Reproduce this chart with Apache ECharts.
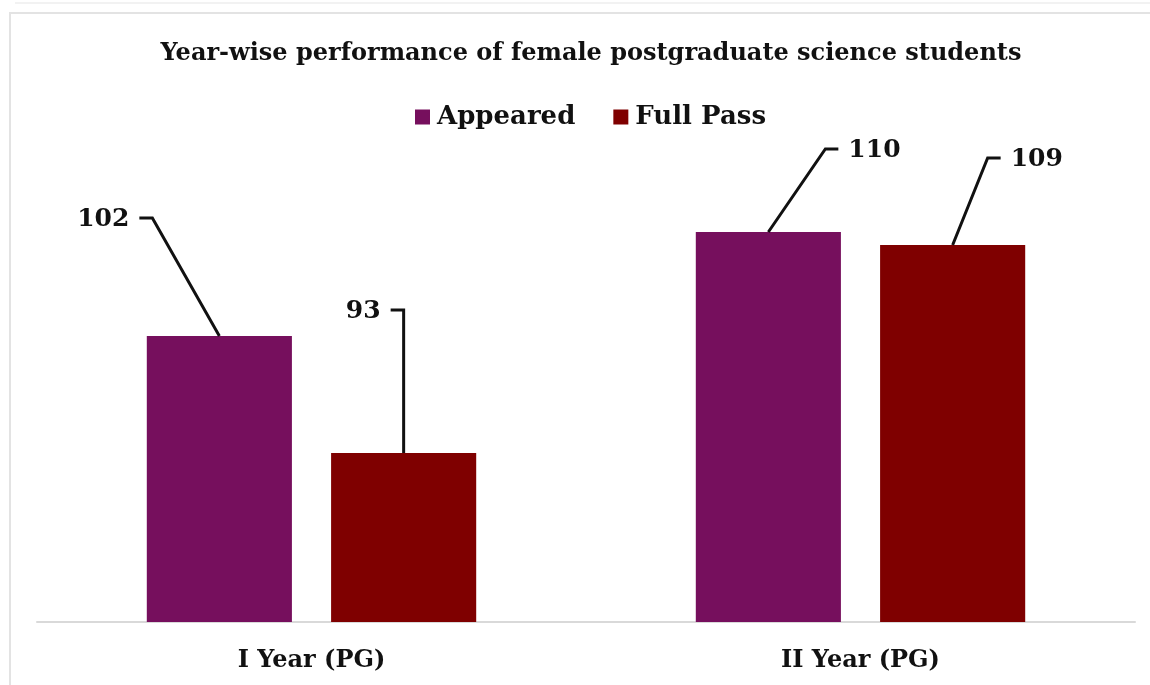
<!DOCTYPE html>
<html>
<head>
<meta charset="utf-8">
<script src="https://cdn.jsdelivr.net/npm/echarts@6/dist/echarts.min.js"></script>
<style>
  html, body { margin: 0; padding: 0; background: #fff; }
  #chart { width: 1150px; height: 685px; }
</style>
</head>
<body>
<div id="chart"></div>
<script>
// Categories and values
const categories = ['I Year (PG)', 'II Year (PG)'];
const seriesNames = ['Appeared', 'Full Pass'];
const appeared = [102, 110];
const fullPass = [93, 109];

// Callout placement per bar, indexed [category][series]: elbow offset from
// the bar's top centre and direction of the short horizontal tick (-1 left, +1 right)
const calloutStyle = [
  [ { dx: -67, dy: -118, dir: -1 }, { dx: 0, dy: -143, dir: -1 } ],
  [ { dx: 57, dy: -83, dir: 1 },    { dx: 35, dy: -87, dir: 1 } ]
];

const colors = ['#760f5d', '#7f0000'];
const serif = '"DejaVu Serif", "Liberation Serif", serif';
const CAT_GAP = 0.40, BAR_GAP = 0.27;

const chart = echarts.init(document.getElementById('chart'));

// Leader lines + value labels, positioned from the same data as the bars
function calloutSeries(values, sIdx) {
  return {
    type: 'custom',
    name: seriesNames[sIdx] + ' labels',
    z: 5,
    data: values.map((v, i) => [i, v]),
    renderItem: function (params, api) {
      const cat = api.value(0);
      const val = api.value(1);
      const top = api.coord([cat, val]);
      const bw = api.size([1, 0])[0];
      const barW = bw * (1 - CAT_GAP) / (2 + BAR_GAP);
      const shift = (barW * (1 + BAR_GAP)) / 2 * (sIdx === 0 ? -1 : 1);
      const x0 = top[0] + shift, y0 = top[1];
      const st = calloutStyle[cat][sIdx];
      const ex = x0 + st.dx, ey = y0 + st.dy;
      const tx = ex + st.dir * 13;
      return {
        type: 'group',
        children: [
          {
            type: 'polyline',
            shape: { points: [[x0, y0], [ex, ey], [tx, ey]] },
            style: { stroke: '#111', lineWidth: 3, fill: null, lineJoin: 'miter' }
          },
          {
            type: 'text',
            style: {
              text: String(val),
              x: tx + st.dir * 10,
              y: ey + 1,
              align: st.dir < 0 ? 'right' : 'left',
              verticalAlign: 'middle',
              font: 'bold 25px ' + serif,
              fill: '#111'
            }
          }
        ]
      };
    }
  };
}

chart.setOption({
  animation: false,
  backgroundColor: '#fff',
  graphic: [
    {
      type: 'rect',
      shape: { x: 10, y: 13, width: 1200, height: 720 },
      style: { fill: null, stroke: '#e3e3e3', lineWidth: 2 },
      silent: true
    },
    {
      type: 'line',
      shape: { x1: 15, y1: 3, x2: 1150, y2: 3 },
      style: { stroke: '#f2f2f2', lineWidth: 2 },
      silent: true
    }
  ],
  title: {
    text: 'Year-wise performance of female postgraduate science students',
    left: 586,
    textAlign: 'center',
    top: 37,
    textStyle: { fontFamily: serif, fontWeight: 'bold', fontSize: 24, color: '#111' }
  },
  legend: {
    data: seriesNames,
    left: 410,
    top: 99,
    itemWidth: 15,
    itemHeight: 15,
    itemGap: 38,
    icon: 'rect',
    textStyle: { fontFamily: serif, fontWeight: 'bold', fontSize: 26, color: '#111', padding: [0, 0, 0, 2] }
  },
  grid: { left: 37, right: 15, top: 102, bottom: 63 },
  xAxis: {
    type: 'category',
    data: categories,
    axisLine: { lineStyle: { color: '#d9d9d9', width: 2 } },
    axisTick: { show: false },
    axisLabel: { margin: 27, fontFamily: serif, fontWeight: 'bold', fontSize: 24, color: '#111' }
  },
  yAxis: {
    type: 'value',
    min: 80,
    max: 120,
    show: false,
    splitLine: { show: false }
  },
  series: [
    {
      name: seriesNames[0], type: 'bar', data: appeared,
      itemStyle: { color: colors[0] },
      barCategoryGap: (CAT_GAP * 100) + '%', barGap: (BAR_GAP * 100) + '%'
    },
    {
      name: seriesNames[1], type: 'bar', data: fullPass,
      itemStyle: { color: colors[1] },
      barCategoryGap: (CAT_GAP * 100) + '%', barGap: (BAR_GAP * 100) + '%'
    },
    calloutSeries(appeared, 0),
    calloutSeries(fullPass, 1)
  ]
});
</script>
</body>
</html>
